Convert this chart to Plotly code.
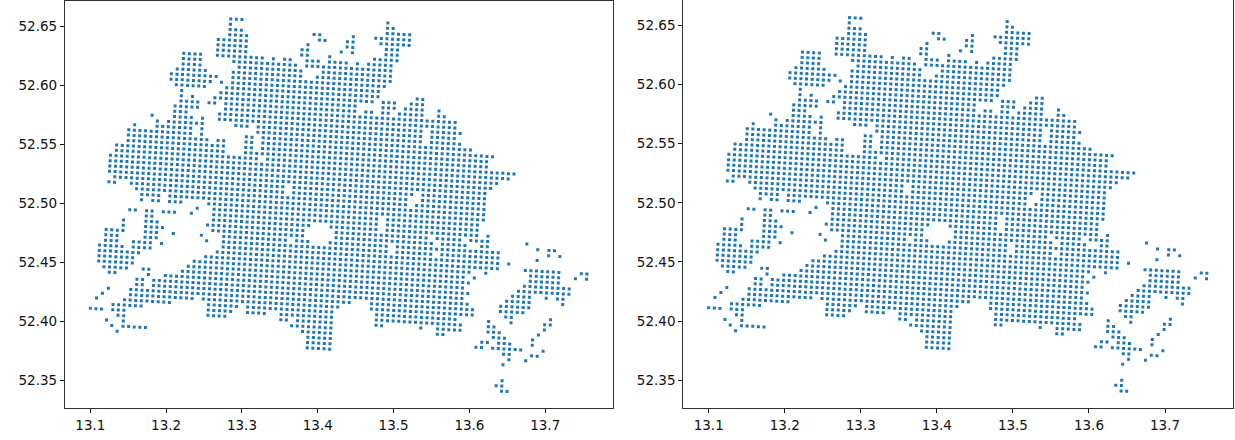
import plotly.graph_objects as go

# Occupied grid cells: row number -> runs of column numbers
ROW_NUMBERS = list(range(-57, 12))
CELL_RUNS = [
    [[50,50]],
    [[22,24],[50,51]],
    [[22,22],[50,54]],
    [[22,24],[37,38],[44,44],[48,54]],
    [[22,25],[38,39],[43,44],[49,54]],
    [[20,25],[36,36],[43,44],[50,52]],
    [[20,25],[35,36],[42,42],[44,44],[50,52]],
    [[20,25],[35,36],[40,40],[48,52]],
    [[14,17],[20,28],[30,30],[32,33],[36,38],[40,43],[45,45],[47,51]],
    [[14,17],[23,34],[36,51]],
    [[14,17],[24,35],[39,51]],
    [[13,18],[23,35],[38,51]],
    [[12,20],[23,50]],
    [[12,19],[21,21],[23,49]],
    [[13,18],[22,49],[56,57]],
    [[14,14],[21,48],[50,52],[55,57]],
    [[14,14],[16,16],[20,45],[50,52],[54,57],[60,60]],
    [[14,17],[19,20],[22,45],[47,48],[50,51],[53,57],[60,61]],
    [[13,17],[22,63]],
    [[13,15],[21,63]],
    [[9,9],[13,16],[18,18],[21,57],[59,64]],
    [[10,10],[12,18],[24,26],[28,57],[59,63]],
    [[6,6],[10,16],[18,18],[28,57],[59,64]],
    [[5,16],[18,18],[26,27],[29,66]],
    [[5,19],[21,22],[26,27],[29,70]],
    [[5,22],[26,27],[29,69]],
    [[3,22],[26,69]],
    [[3,28],[30,74]],
    [[2,73]],
    [[2,71]],
    [[2,70]],
    [[2,69]],
    [[3,33],[35,56],[58,69]],
    [[2,3],[6,33],[35,55],[58,69]],
    [[7,55],[57,69]],
    [[8,11],[13,69]],
    [[8,8],[10,11],[13,15],[20,69]],
    [[18,18],[21,50],[52,68]],
    [[6,7],[9,10],[12,14],[17,17],[21,50],[52,68]],
    [[9,10],[21,38],[42,50],[52,68],[70,70]],
    [[5,5],[9,11],[20,37],[43,59],[61,65],[67,70],[77,77]],
    [[5,5],[9,12],[21,37],[43,60],[62,66],[69,70],[79,79],[81,82]],
    [[2,5],[9,11],[14,14],[19,19],[23,34],[36,38],[42,52],[54,72],[81,81],[83,83]],
    [[2,4],[9,11],[20,20],[23,52],[54,60],[62,72],[79,79]],
    [[2,4],[7,10],[12,12],[23,72],[74,74]],
    [[1,5],[7,10],[22,72],[77,83],[87,88]],
    [[1,8],[20,67],[70,70],[78,83],[86,86],[88,88]],
    [[1,7],[18,66],[68,68],[78,83]],
    [[1,7],[17,67],[77,85]],
    [[2,6],[9,10],[16,66],[76,85]],
    [[3,4],[10,10],[13,67],[75,78],[81,81],[83,84]],
    [[8,9],[11,66],[74,78],[84,84]],
    [[8,9],[11,67],[73,78]],
    [[3,3],[7,46],[50,68],[73,77]],
    [[2,2],[7,18],[20,44],[50,68],[74,75],[82,82]],
    [[1,1],[6,14],[21,26],[28,43],[51,65],[71,71],[75,75],[81,82]],
    [[4,9],[21,25],[28,31],[34,43],[51,66],[71,72],[81,81]],
    [[0,2],[4,6],[21,24],[34,35],[37,43],[51,52],[59,59],[62,66],[71,73],[80,80]],
    [[5,6],[36,43],[62,63],[72,74],[79,79]],
    [[3,3],[6,6],[38,43],[70,71],[73,75],[79,79]],
    [[4,4],[6,10],[39,43],[69,70],[72,77],[81,81]],
    [[5,5],[39,43],[74,75],[79,80]],
    [[39,43],[75,75],[78,78]],
    [[74,74]],
    [],
    [],
    [[74,74]],
    [[73,74]],
    [[74,75]],
]

# The tilted grid
LON_ORIGIN, LAT_ORIGIN = 13.1, 52.4113
LON_PER_COLUMN, LON_PER_ROW = 0.007388, -0.000405
LAT_PER_COLUMN, LAT_PER_ROW = -0.000282, -0.004492

X_TICKS = [13.1, 13.2, 13.3, 13.4, 13.5, 13.6, 13.7]
Y_TICKS = [52.35, 52.40, 52.45, 52.50, 52.55, 52.60, 52.65]

lons, lats = [], []
for row, runs in zip(ROW_NUMBERS, CELL_RUNS):
    for first, last in runs:
        for col in range(first, last + 1):
            lons.append(LON_ORIGIN + LON_PER_COLUMN * col + LON_PER_ROW * row)
            lats.append(LAT_ORIGIN + LAT_PER_COLUMN * col + LAT_PER_ROW * row)

W, H = 1235, 440
INK = "#111111"
fig = go.Figure()
marker = dict(symbol="square", size=3.0, color="#1f77b4", line=dict(width=0))
fig.add_trace(go.Scatter(x=lons, y=lats, mode="markers", marker=marker, xaxis="x", yaxis="y", hoverinfo="skip"))
fig.add_trace(go.Scatter(x=lons, y=lats, mode="markers", marker=marker, xaxis="x2", yaxis="y2", hoverinfo="skip"))

def xaxis(left, right, anchor):
    return dict(domain=[left / W, right / W], range=[13.0666, 13.789], anchor=anchor,
                tickvals=X_TICKS, ticktext=[f"{v:.1f}" for v in X_TICKS],
                ticks="outside", ticklen=4, tickwidth=1, tickcolor=INK,
                showgrid=False, zeroline=False, showline=True, mirror=True,
                linecolor="#333", linewidth=1.2, tickfont=dict(family="DejaVu Sans", size=13.5, color=INK))

def yaxis(anchor, top_px, lat_range):
    return dict(domain=[(H - 408.3) / H, (H - top_px) / H], range=lat_range, anchor=anchor,
                tickvals=Y_TICKS, ticktext=[f"{v:.2f}" for v in Y_TICKS],
                ticks="outside", ticklen=4, tickwidth=1, tickcolor=INK,
                showgrid=False, zeroline=False, showline=True, mirror=True,
                linecolor="#333", linewidth=1.2, tickfont=dict(family="DejaVu Sans", size=13.5, color=INK))

fig.update_layout(
    width=W, height=H, showlegend=False, paper_bgcolor="white", plot_bgcolor="white",
    margin=dict(l=0, r=0, t=0, b=0),
    xaxis=xaxis(65, 612.7, "y"), yaxis=yaxis("x", 1, [52.3266, 52.6718]),
    xaxis2=xaxis(683.3, 1232.7, "y2"), yaxis2=yaxis("x2", 0, [52.3263, 52.6715]),
)
fig.write_html("out.html", config={"displayModeBar": False},
               post_script="document.body.style.margin='0';")
